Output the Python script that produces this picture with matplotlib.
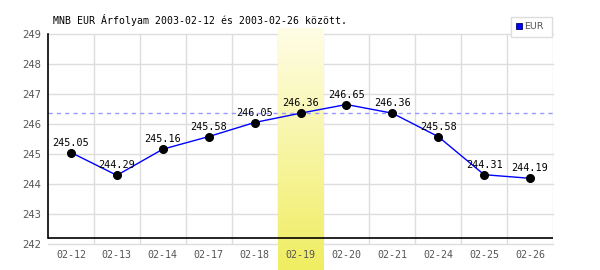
import matplotlib
matplotlib.use("Agg")
import matplotlib.pyplot as plt
import numpy as np
from matplotlib.colors import LinearSegmentedColormap

dates = ["02-12", "02-13", "02-14", "02-17", "02-18", "02-19",
         "02-20", "02-21", "02-24", "02-25", "02-26"]
values = [245.05, 244.29, 245.16, 245.58, 246.05, 246.36,
          246.65, 246.36, 245.58, 244.31, 244.19]
highlight_index = 5
y_ticks = [242, 243, 244, 245, 246, 247, 248, 249]
title = "MNB EUR Árfolyam 2003-02-12 és 2003-02-26 között."
series_name = "EUR"

fig = plt.figure(figsize=(6, 2.7), dpi=100)
ax = fig.add_axes([48/600, 1-244/270, (553-48)/600, (244-34)/270])

x = np.arange(len(dates))

# highlight band with gradient
cmap = LinearSegmentedColormap.from_list("hl", [(1.0, 0.992, 0.90), (0.94, 0.93, 0.38)])
grad = np.linspace(0, 1, 256).reshape(-1, 1)
ax.imshow(grad, cmap=cmap, aspect="auto",
          extent=[highlight_index-0.5, highlight_index+0.5, 241.1, 249.2],
          origin="upper", clip_on=False, zorder=0.5, interpolation="bilinear")

ax.set_xlim(-0.5, len(dates)-0.5)
ax.set_ylim(242, 249)

# grid
for yv in y_ticks:
    ax.axhline(yv, color="#dddddd", lw=1, zorder=0.2, clip_on=False)
for xv in np.arange(0.5, len(dates), 1.0):
    ax.axvline(xv, color="#dddddd", lw=1, zorder=0.2)

# reference dashed line at highlighted value
ax.axhline(values[highlight_index], color="#9999ff", lw=1, ls=(0, (3, 3)), zorder=1)

# base axis line
ax.axhline(242.2, color="black", lw=1.2, zorder=2)

ax.plot(x, values, color="#0000ff", lw=1, zorder=3)
ax.plot(x, values, "o", color="black", ms=5.5, zorder=4)

for xi, v in zip(x, values):
    ax.annotate(f"{v:.2f}", (xi, v), xytext=(0, 3.5), textcoords="offset points",
                ha="center", va="bottom", fontsize=7.3, family="DejaVu Sans Mono",
                color="black", zorder=5)

for s in ["top", "right", "bottom"]:
    ax.spines[s].set_visible(False)
ax.spines["left"].set_bounds(242.2, 249)
ax.spines["left"].set_linewidth(1.2)
ax.spines["left"].set_color("black")

ax.set_yticks(y_ticks)
ax.set_yticklabels([str(t) for t in y_ticks], fontsize=7.2, color="#555555")
ax.set_xticks(x)
ax.set_xticklabels(dates, fontsize=7.2, color="#555555", family="DejaVu Sans Mono")
ax.tick_params(length=0, pad=5)
ax.tick_params(axis="x", pad=4)
ax.patch.set_alpha(0)

fig.text(53/600, 1-20/270, title, fontsize=7.1, family="DejaVu Sans Mono",
         ha="left", va="center", color="black")

# legend box
lx0, ly0, lx1, ly1 = 511, 17, 552, 37
fig.patches.append(plt.Rectangle((lx0/600, 1-ly1/270), (lx1-lx0)/600, (ly1-ly0)/270,
                                 transform=fig.transFigure, facecolor="white",
                                 edgecolor="#dddddd", lw=1))
fig.patches.append(plt.Rectangle((516/600, 1-29/270), 6/600, 6/270,
                                 transform=fig.transFigure, facecolor="#0000ff",
                                 edgecolor="#000066", lw=0.6))
fig.text(524/600, 1-26.5/270, series_name, fontsize=6.8, color="#555555",
         ha="left", va="center")

fig.savefig("out.png", dpi=100)
